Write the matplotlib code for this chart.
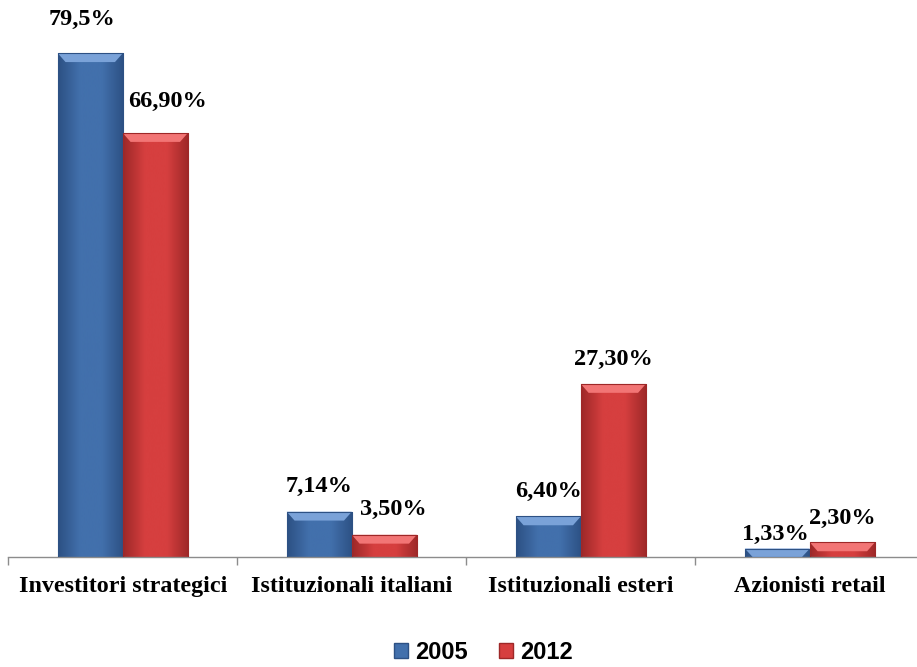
import numpy as np
import matplotlib
matplotlib.use("Agg")
import matplotlib.pyplot as plt
from matplotlib.colors import LinearSegmentedColormap
from matplotlib.patches import Patch

categories = ["Investitori strategici", "Istituzionali italiani",
              "Istituzionali esteri", "Azionisti retail"]
years = ["2005", "2012"]
values_2005 = [79.5, 7.14, 6.40, 1.33]
values_2012 = [66.90, 3.50, 27.30, 2.30]
labels_2005 = ["79,5%", "7,14%", "6,40%", "1,33%"]
labels_2012 = ["66,90%", "3,50%", "27,30%", "2,30%"]

base_colors = {"2005": "#4270AC", "2012": "#D63F3F"}
light_colors = {"2005": "#7AA2D8", "2012": "#F27575"}
dark_colors = {"2005": "#2D5184", "2012": "#9E2828"}

fig = plt.figure(figsize=(9.17, 6.67), dpi=100)
ax = fig.add_axes([0.009, 0.165, 0.999, 0.76])

x = np.arange(len(categories))
width = 0.284
ax.set_xlim(-0.5, len(categories) - 0.5)
ax.set_ylim(0, 80)


def shade_bar(rect, key):
    """Give a bar a bevelled, glossy look with a gradient clipped to it."""
    x0, y0 = rect.get_x(), rect.get_y()
    w, h = rect.get_width(), rect.get_height()
    cmap = LinearSegmentedColormap.from_list(
        key, [dark_colors[key], base_colors[key], base_colors[key], dark_colors[key]])
    grad = np.linspace(0, 1, 64).reshape(1, -1)
    im = ax.imshow(grad, cmap=cmap, extent=[x0, x0 + w, y0, y0 + h],
                   aspect="auto", zorder=2, interpolation="bicubic")
    im.set_clip_path(rect)
    # top bevel strip
    bevel = min(h, 1.4)
    ax.fill([x0, x0 + w, x0 + w * 0.88, x0 + w * 0.12],
            [y0 + h, y0 + h, y0 + h - bevel, y0 + h - bevel],
            color=light_colors[key], zorder=3, lw=0)
    rect.set_zorder(4)
    rect.set_facecolor("none")
    rect.set_edgecolor(dark_colors[key])
    rect.set_linewidth(0.8)


bars05 = ax.bar(x - width / 2, values_2005, width, color=base_colors["2005"])
bars12 = ax.bar(x + width / 2, values_2012, width, color=base_colors["2012"])
for r in bars05:
    shade_bar(r, "2005")
for r in bars12:
    shade_bar(r, "2012")

label_font = dict(family="Liberation Serif", weight="bold", fontsize=17.5)
offsets_05 = [(-8, 34), (0, 25), (0, 25), (-2, 14)]
offsets_12 = [(12, 32), (9, 25), (0, 25), (0, 24)]
for r, lab, (dx, dy) in zip(bars05, labels_2005, offsets_05):
    ax.annotate(lab, (r.get_x() + r.get_width() / 2, r.get_height()),
                xytext=(dx, dy), textcoords="offset pixels",
                ha="center", va="center", annotation_clip=False, **label_font)
for r, lab, (dx, dy) in zip(bars12, labels_2012, offsets_12):
    ax.annotate(lab, (r.get_x() + r.get_width() / 2, r.get_height()),
                xytext=(dx, dy), textcoords="offset pixels",
                ha="center", va="center", annotation_clip=False, **label_font)

for s in ["top", "right", "left"]:
    ax.spines[s].set_visible(False)
ax.spines["bottom"].set_color("#8C8C8C")
ax.spines["bottom"].set_linewidth(1.0)
ax.set_yticks([])
ax.set_xticks(x)
ax.set_xticklabels(categories, family="Liberation Serif", weight="bold",
                   fontsize=17.3)
ax.tick_params(axis="x", length=0, pad=14)
ax.set_xticks(np.arange(-0.5, len(categories)), minor=True)
ax.tick_params(axis="x", which="minor", length=6, color="#8C8C8C", width=1)

handles = [Patch(facecolor=base_colors[y], edgecolor=dark_colors[y]) for y in years]
fig.legend(handles, years, loc="center", bbox_to_anchor=(0.527, 0.022),
           ncol=2, frameon=False, handlelength=0.6, handleheight=0.6,
           handletextpad=0.3, columnspacing=1.3,
           prop=dict(family="Liberation Sans", weight="bold", size=17))

fig.savefig("out.png", dpi=100)
